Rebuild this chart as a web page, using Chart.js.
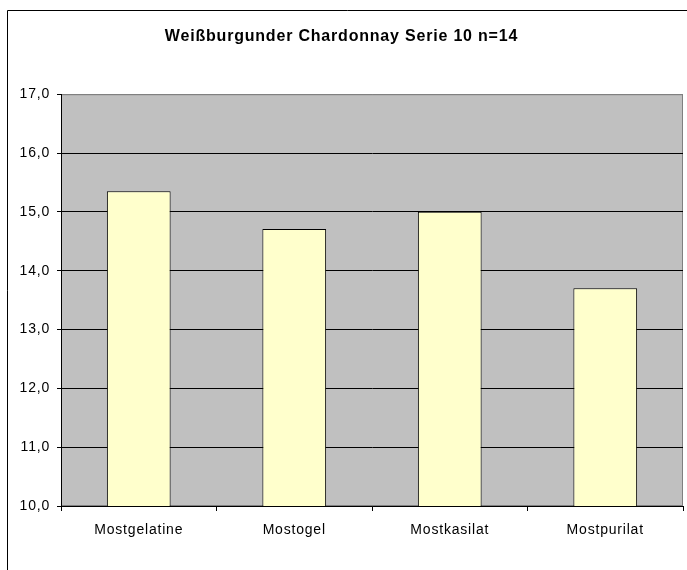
<!DOCTYPE html>
<html>
<head>
<meta charset="utf-8">
<script src="https://cdn.jsdelivr.net/npm/chart.js@4"></script>
<style>
  html, body { margin: 0; padding: 0; background: #fff; }
  canvas { display: block; }
</style>
</head>
<body>
<canvas id="chart" width="687" height="570"></canvas>
<script>
// ===== DATA =====
const categories = ["Mostgelatine", "Mostogel", "Mostkasilat", "Mostpurilat"];
const values = [15.35, 14.71, 15.0, 13.7];
const yMin = 10;
const yMax = 17;
const titleText = "Weißburgunder Chardonnay Serie 10 n=14";

// ===== PLUGINS =====
// Excel-like wide text spacing
const spacing = {
  id: "spacing",
  beforeUpdate(chart) { chart.ctx.letterSpacing = "0.8px"; },
  beforeDraw(chart) { chart.ctx.letterSpacing = "0.8px"; }
};

// outer frame + gray plot area
const frame = {
  id: "frame",
  beforeDraw(chart) {
    const ctx = chart.ctx;
    const a = chart.chartArea;
    ctx.save();
    ctx.fillStyle = "#fff";
    ctx.fillRect(0, 0, chart.width, chart.height);
    ctx.strokeStyle = "#000";
    ctx.lineWidth = 1;
    ctx.beginPath();
    ctx.moveTo(7.5, chart.height);
    ctx.lineTo(7.5, 10.5);
    ctx.lineTo(chart.width, 10.5);
    ctx.stroke();
    ctx.fillStyle = "#C0C0C0";
    ctx.fillRect(a.left, a.top, a.right - a.left, a.bottom - a.top);
    ctx.strokeStyle = "#808080";
    ctx.strokeRect(a.left + 0.5, a.top + 0.5, a.right - a.left - 1, a.bottom - a.top - 1);
    ctx.restore();
  }
};

// ===== CHART =====
new Chart(document.getElementById("chart"), {
  type: "bar",
  data: {
    labels: categories,
    datasets: [{
      data: values,
      backgroundColor: "#FFFFCC",
      borderColor: "#000",
      borderWidth: 1,
      barPercentage: 0.41,
      categoryPercentage: 1
    }]
  },
  options: {
    responsive: false,
    animation: false,
    layout: { padding: { left: 0, right: 4, top: 0, bottom: 0 } },
    plugins: {
      legend: { display: false },
      tooltip: { enabled: false },
      title: {
        display: true,
        text: titleText,
        color: "#000",
        font: { family: "'Liberation Sans', Arial, sans-serif", size: 16, weight: "bold" },
        padding: { top: 27, bottom: 48 }
      }
    },
    scales: {
      x: {
        afterFit(scale) { scale.height = 64; },
        grid: {
          display: true,
          drawOnChartArea: false,
          drawTicks: true,
          tickLength: 5,
          color: "#000",
          offset: true
        },
        border: { color: "#000", width: 1 },
        ticks: {
          color: "#000",
          padding: 11,
          font: { family: "'Liberation Sans', Arial, sans-serif", size: 14 }
        }
      },
      y: {
        min: yMin,
        max: yMax,
        afterFit(scale) { scale.width = 61; },
        grid: {
          color: (c) => (c.tick && c.tick.value === yMax ? "#808080" : "#000"),
          tickColor: "#000",
          tickLength: 4,
          lineWidth: 1
        },
        border: { color: "#000", width: 1 },
        ticks: {
          stepSize: 1,
          color: "#000",
          padding: 7,
          font: { family: "'Liberation Sans', Arial, sans-serif", size: 14 },
          callback: (v) => v.toFixed(1).replace(".", ",")
        }
      }
    }
  },
  plugins: [spacing, frame]
});
</script>
</body>
</html>
